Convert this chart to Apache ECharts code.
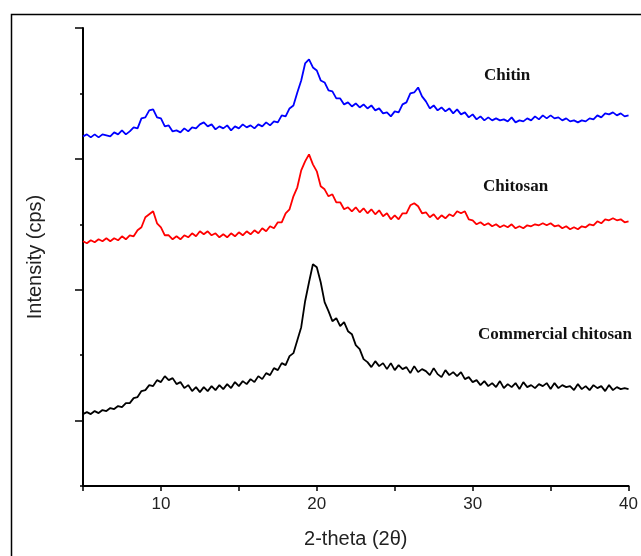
<!DOCTYPE html>
<html>
<head>
<meta charset="utf-8">
<script src="https://cdn.jsdelivr.net/npm/echarts@6/dist/echarts.min.js"></script>
<style>
html,body{margin:0;padding:0;background:#fff;}
#chart{width:641px;height:556px;}
</style>
</head>
<body>
<div id="chart"></div>
<script>
// 2-theta grid (degrees)
const theta = [
5,5.25,5.5,5.75, 6,6.25,6.5,6.75, 7,7.25,7.5,7.75, 8,8.25,8.5,8.75, 9,9.25,9.5,9.75,
10,10.25,10.5,10.75, 11,11.25,11.5,11.75, 12,12.25,12.5,12.75, 13,13.25,13.5,13.75, 14,14.25,14.5,14.75,
15,15.25,15.5,15.75, 16,16.25,16.5,16.75, 17,17.25,17.5,17.75, 18,18.25,18.5,18.75, 19,19.25,19.5,19.75,
20,20.25,20.5,20.75, 21,21.25,21.5,21.75, 22,22.25,22.5,22.75, 23,23.25,23.5,23.75, 24,24.25,24.5,24.75,
25,25.25,25.5,25.75, 26,26.25,26.5,26.75, 27,27.25,27.5,27.75, 28,28.25,28.5,28.75, 29,29.25,29.5,29.75,
30,30.25,30.5,30.75, 31,31.25,31.5,31.75, 32,32.25,32.5,32.75, 33,33.25,33.5,33.75, 34,34.25,34.5,34.75,
35,35.25,35.5,35.75, 36,36.25,36.5,36.75, 37,37.25,37.5,37.75, 38,38.25,38.5,38.75, 39,39.25,39.5,39.75,
40
];
// Intensity (arbitrary units, curves offset as in the figure)
const chitin = [
350,352,349,352, 349,352,351,350, 354,352,356,352, 355,359,358,368, 369,376,377,369,
368,360,361,355, 356,354,358,355, 359,358,362,364, 360,362,357,360, 358,361,356,360,
358,362,359,361, 358,362,360,364, 361,365,364,371, 370,378,381,394, 406,423,427,419,
416,406,404,396, 395,388,388,382, 384,380,383,379, 382,378,381,376, 378,373,374,370,
375,374,382,384, 393,394,399,390, 385,378,381,376, 379,375,378,373, 377,372,374,369,
372,367,370,366, 369,366,368,366, 367,365,369,364, 366,365,368,366, 370,367,371,368,
371,368,369,366, 368,365,366,364, 366,365,368,367, 371,369,373,372, 374,371,373,370,
371
];
const chitosan = [
245,243,246,244, 247,245,248,245, 248,246,250,247, 251,250,256,259, 269,272,275,263,
259,251,251,247, 250,247,251,249, 253,250,255,252, 255,251,253,249, 252,249,253,250,
254,251,255,252, 256,253,258,255, 260,258,264,264, 273,277,290,299, 316,325,332,322,
315,300,297,290, 292,284,284,277, 279,275,279,274, 278,273,277,272, 276,270,273,267,
271,267,273,273, 281,283,280,273, 274,269,272,267, 271,268,272,270, 275,273,275,267,
266,262,264,261, 263,260,262,259, 261,259,262,258, 260,258,261,260, 262,261,263,261,
263,260,261,258, 260,257,259,257, 260,259,262,261, 265,263,267,266, 268,266,267,264,
265
];
const commercial = [
72,74,72,75, 73,76,75,78, 77,80,79,83, 83,88,89,95, 96,101,100,106,
104,110,106,108, 102,104,98,101, 95,99,94,99, 95,100,96,101, 97,102,98,104,
100,105,102,107, 104,110,107,113, 111,118,116,123, 121,130,133,146, 159,185,204,222,
219,204,184,175, 165,168,160,164, 155,152,141,137, 127,124,119,125, 120,123,117,123,
116,121,117,119, 113,120,114,117, 115,111,118,112, 109,116,111,114, 110,114,107,109,
104,106,101,105, 100,103,99,105, 98,102,99,103, 97,104,99,101, 98,102,100,103,
97,103,98,101, 99,100,96,102, 97,100,96,101, 98,100,95,101, 96,99,97,98,
97
];
const xTickLabels = [10, 20, 30, 40];
const seriesNames = ['Chitin', 'Chitosan', 'Commercial chitosan'];

const pairs = arr => theta.map((t, i) => [t, arr[i]]);

const chart = echarts.init(document.getElementById('chart'), null, {renderer: 'canvas'});
const axisFont = 'Liberation Sans, Arial, sans-serif';
const serifFont = 'Liberation Serif, Times New Roman, serif';

chart.setOption({
  animation: false,
  backgroundColor: '#ffffff',
  grid: {left: 83, right: 12, top: 28, bottom: 70, containLabel: false},
  xAxis: {
    type: 'value', min: 5, max: 40, interval: 5,
    name: '2-theta (2\u03b8)', nameLocation: 'middle', nameGap: 43,
    nameTextStyle: {fontFamily: axisFont, fontSize: 20, color: '#222'},
    axisLine: {show: true, onZero: false, lineStyle: {color: '#000', width: 2}},
    axisTick: {show: true, inside: false, length: 5, lineStyle: {color: '#000', width: 1.5}},
    axisLabel: {
      margin: 10, fontFamily: axisFont, fontSize: 17, color: '#222',
      showMinLabel: true, showMaxLabel: true,
      formatter: v => (xTickLabels.indexOf(v) >= 0 ? String(v) : '')
    },
    splitLine: {show: false}
  },
  yAxis: [
    {
      type: 'value', min: 0, max: 458.5, interval: 65.5,
      name: 'Intensity (cps)', nameLocation: 'middle', nameGap: 38, nameRotate: 90,
      nameTextStyle: {fontFamily: axisFont, fontSize: 20, color: '#222'},
      axisLine: {show: true, onZero: false, lineStyle: {color: '#000', width: 2}},
      axisTick: {show: true, inside: false, length: 3, lineStyle: {color: '#000', width: 1.5}},
      axisLabel: {show: false},
      splitLine: {show: false}
    },
    {
      type: 'value', min: 0, max: 458.5, interval: 65.5, position: 'left',
      axisLine: {show: false},
      axisTick: {show: true, inside: false, length: 8, customValues: [65.5, 196.5, 327.5, 458.5],
                 lineStyle: {color: '#000', width: 1.5}},
      axisLabel: {show: false},
      splitLine: {show: false}
    }
  ],
  series: [
    {name: seriesNames[0], type: 'line', data: pairs(chitin), showSymbol: false, symbol: 'none',
     lineStyle: {color: '#0000ff', width: 1.8}, z: 3},
    {name: seriesNames[1], type: 'line', data: pairs(chitosan), showSymbol: false, symbol: 'none',
     lineStyle: {color: '#ff0000', width: 1.8}, z: 3},
    {name: seriesNames[2], type: 'line', data: pairs(commercial), showSymbol: false, symbol: 'none',
     lineStyle: {color: '#000000', width: 1.8}, z: 3}
  ],
  graphic: [
    {type: 'rect', left: 9, top: 12, z: 0, silent: true,
     shape: {width: 700, height: 600},
     style: {fill: 'none', stroke: '#000', lineWidth: 1.5}},
    {type: 'text', left: 484, top: 67, silent: true,
     style: {text: seriesNames[0], font: 'bold 17px ' + serifFont, fill: '#111'}},
    {type: 'text', left: 483, top: 178, silent: true,
     style: {text: seriesNames[1], font: 'bold 17px ' + serifFont, fill: '#111'}},
    {type: 'text', left: 478, top: 326, silent: true,
     style: {text: seriesNames[2], font: 'bold 17px ' + serifFont, fill: '#111'}}
  ]
});
</script>
</body>
</html>
